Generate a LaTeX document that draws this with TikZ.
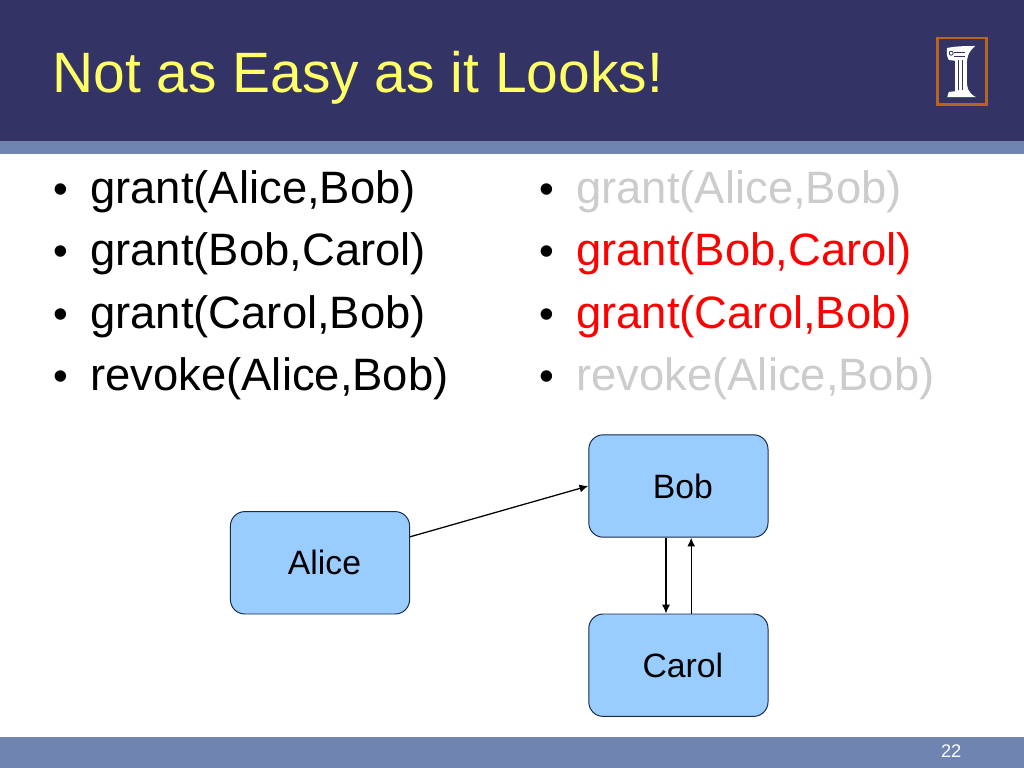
\documentclass[tikz,border=0pt]{standalone}
\usepackage{fontspec}
\setmainfont{Liberation Sans}
\usepackage{xcolor}
\usetikzlibrary{arrows.meta}
\definecolor{bandnavy}{HTML}{333366}
\definecolor{stripeblue}{HTML}{6F84B0}
\definecolor{boxblue}{HTML}{99CCFF}
\definecolor{boxline}{HTML}{1A2A48}
\definecolor{titleyellow}{HTML}{FFFF66}
\definecolor{logoorange}{HTML}{B8651F}
\definecolor{fadedgray}{HTML}{CCCCCC}
\newcommand{\bulletline}[1]{\llap{\textcolor{black}{\fontsize{30}{30}\selectfont\textbullet}\hspace{5.4mm}}#1}
\tikzset{
    person/.style={draw=boxline,line width=0.7pt,fill=boxblue,rounded corners=3.6mm,
        minimum width=44.8mm,minimum height=25.6mm,inner sep=0pt,font=\fontsize{24}{28}\selectfont,
        execute at begin node=\hspace*{2.25mm}},
    item/.style={anchor=base west,inner sep=0pt,font=\fontsize{32.3}{38}\selectfont},
    link/.style={-{Latex[length=2.2mm,width=2mm]},line width=0.9pt,black}
}

\begin{document}
\begin{tikzpicture}
    \useasboundingbox (0,0) rectangle (25.6,-19.2);
    \fill[white] (0,0) rectangle (25.6,-19.2);

    % bands
    \fill[bandnavy] (0,0) rectangle (25.6,-3.53);
    \fill[stripeblue] (0,-3.53) rectangle (25.6,-3.85);
    \fill[stripeblue] (0,-18.42) rectangle (25.6,-19.2);

    % logo
    \draw[logoorange,line width=1.6pt,fill=bandnavy] (23.44,-0.95) rectangle (24.66,-2.61);
    \fill[white] (23.68,-1.2) .. controls (23.9,-1.15) and (24.2,-1.15) .. (24.38,-1.15)
        .. controls (24.2,-1.3) and (24.17,-1.45) .. (24.17,-1.6)
        -- (24.17,-2.0) .. controls (24.17,-2.2) and (24.2,-2.32) .. (24.4,-2.43)
        -- (23.68,-2.43) -- (23.72,-2.3) -- (23.88,-2.28) -- (23.88,-1.52) -- (23.72,-1.5)
        .. controls (23.66,-1.4) and (23.66,-1.28) .. cycle;
    \draw[bandnavy,line width=0.5pt] (23.97,-1.5) -- (23.97,-2.26) (24.06,-1.5) -- (24.06,-2.26);
    \draw[bandnavy,line width=0.4pt] (23.86,-1.3) -- (24.12,-1.3) (23.86,-1.4) -- (24.12,-1.4);
    \draw[bandnavy,line width=0.6pt] (23.78,-1.33) circle (0.05);

    \node[anchor=base west,inner sep=0pt,text=titleyellow,font=\fontsize{40.5}{48}\selectfont] (title) at (1.3,-2.32) {Not as Easy as it Looks!};

    % left column
    \node[item] (leftA) at (2.25,-5.1) {\bulletline{grant(Alice,Bob)}};
    \node[item] (leftB) at (2.25,-6.65) {\bulletline{grant(Bob,Carol)}};
    \node[item] (leftC) at (2.25,-8.2) {\bulletline{grant(Carol,Bob)}};
    \node[item] (leftD) at (2.25,-9.75) {\bulletline{revoke(Alice,Bob)}};

    % right column
    \node[item,text=fadedgray] (rightA) at (14.4,-5.1) {\bulletline{grant(Alice,Bob)}};
    \node[item,text=red] (rightB) at (14.4,-6.65) {\bulletline{grant(Bob,Carol)}};
    \node[item,text=red] (rightC) at (14.4,-8.2) {\bulletline{grant(Carol,Bob)}};
    \node[item,text=fadedgray] (rightD) at (14.4,-9.75) {\bulletline{revoke(Alice,Bob)}};

    % graph
    \node[person] (alice) at (8.0,-14.07) {Alice};
    \node[person] (bob) at (16.96,-12.15) {Bob};
    \node[person] (carol) at (16.96,-16.63) {Carol};

    \draw[link] ([yshift=6.5mm]alice.east) -- (bob.west);
    \draw[link] ([xshift=-3.1mm]bob.south) -- ([xshift=-3.1mm]carol.north);
    \draw[link] ([xshift=3.2mm]carol.north) -- ([xshift=3.2mm]bob.south);

    \node[text=white,inner sep=0pt,font=\fontsize{13}{15}\selectfont] (pagenum) at (23.78,-18.78) {22};
\end{tikzpicture}
\end{document}
